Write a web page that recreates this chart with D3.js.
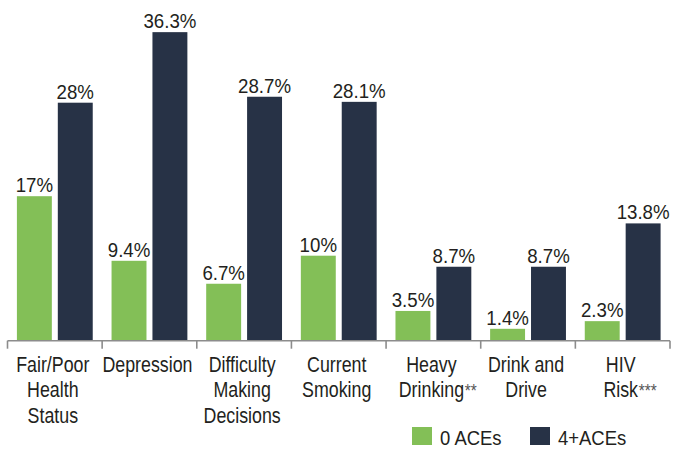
<!DOCTYPE html>
<html>
<head>
<meta charset="utf-8">
<script src="https://cdn.jsdelivr.net/npm/d3@7"></script>
<style>
  body { margin: 0; background: #fff; }
  svg text { font-family: "Liberation Sans", Arial, sans-serif; fill: #231f20; }
</style>
</head>
<body>
<div id="chart"></div>
<script>
// Data
const categories = ['Fair/Poor Health Status', 'Depression', 'Difficulty Making Decisions',
  'Current Smoking', 'Heavy Drinking**', 'Drink and Drive', 'HIV Risk***'];
const categoryLines = [
  ['Fair/Poor', 'Health', 'Status'],
  ['Depression'],
  ['Difficulty', 'Making', 'Decisions'],
  ['Current', 'Smoking'],
  ['Heavy', 'Drinking**'],
  ['Drink and', 'Drive'],
  ['HIV', 'Risk***']
];
const seriesNames = ['0 ACEs', '4+ACEs'];
const zeroAces = [17, 9.4, 6.7, 10, 3.5, 1.4, 2.3];
const fourPlusAces = [28, 36.3, 28.7, 28.1, 8.7, 8.7, 13.8];
const valueLabels0 = ['17%', '9.4%', '6.7%', '10%', '3.5%', '1.4%', '2.3%'];
const valueLabels4 = ['28%', '36.3%', '28.7%', '28.1%', '8.7%', '8.7%', '13.8%'];

const colors = { '0 ACEs': '#83bf57', '4+ACEs': '#273246' };

const width = 678, height = 456;
const svg = d3.select('#chart').append('svg')
  .attr('width', width).attr('height', height);

const baseY = 340.7;
const squeeze = 0.81; // horizontal squeeze for category labels

const x0 = d3.scaleBand()
  .domain(categories)
  .range([7.5, 670])
  .paddingInner(0).paddingOuter(0);

const x1 = d3.scaleBand()
  .domain(seriesNames)
  .range([0, x0.bandwidth()])
  .paddingInner(0.146)
  .paddingOuter(0.23);

const y = d3.scaleLinear()
  .domain([0, 40])
  .range([baseY, baseY - 340]);

const rows = categories.map((c, i) => ({
  category: c,
  lines: categoryLines[i],
  values: [
    { key: '0 ACEs', value: zeroAces[i], label: valueLabels0[i] },
    { key: '4+ACEs', value: fourPlusAces[i], label: valueLabels4[i] }
  ]
}));

// Bars
const groups = svg.selectAll('.group')
  .data(rows)
  .enter().append('g')
  .attr('class', 'group')
  .attr('transform', d => `translate(${x0(d.category)},0)`);

groups.selectAll('rect')
  .data(d => d.values)
  .enter().append('rect')
  .attr('x', d => x1(d.key))
  .attr('width', x1.bandwidth())
  .attr('y', d => y(d.value))
  .attr('height', d => baseY - y(d.value))
  .style('fill', d => colors[d.key]);

// Value labels (squeezed horizontally to mimic a condensed face)
groups.selectAll('.value-label')
  .data(d => d.values)
  .enter().append('text')
  .attr('class', 'value-label')
  .attr('transform', d => `translate(${x1(d.key) + x1.bandwidth() / 2},${y(d.value) - 4}) scale(0.89,1)`)
  .attr('text-anchor', 'middle')
  .style('font-size', '21px')
  .text(d => d.label);

// Axis
const axis = svg.append('g')
  .attr('transform', `translate(0,${baseY})`);

axis.append('line')
  .attr('x1', x0.range()[0]).attr('x2', x0.range()[1])
  .attr('y1', 0).attr('y2', 0)
  .style('stroke', '#8c8c8c').style('stroke-width', 1.6);

const tickPos = categories.map(c => x0(c)).concat([x0.range()[1]]);
axis.selectAll('.tick')
  .data(tickPos)
  .enter().append('line')
  .attr('x1', d => d).attr('x2', d => d)
  .attr('y1', 0).attr('y2', 8)
  .style('stroke', '#8c8c8c').style('stroke-width', 1.6);

// Category labels
const catGroups = svg.selectAll('.cat-label')
  .data(rows)
  .enter().append('g')
  .attr('class', 'cat-label')
  .attr('transform', d => `translate(${x0(d.category) + x0.bandwidth() / 2 - 2},${baseY + 31}) scale(${squeeze},1)`);

catGroups.each(function(d) {
  const g = d3.select(this);
  d.lines.forEach((line, i) => {
    const m = line.match(/^(.*?)(\*+)$/);
    const word = m ? m[1] : line;
    const t = g.append('text')
      .attr('x', 0)
      .attr('y', i * 25.8)
      .attr('text-anchor', 'middle')
      .style('font-size', '22px')
      .text(word);
    if (m) {
      const w = t.node().getComputedTextLength();
      g.append('text')
        .attr('x', w / 2 + 1)
        .attr('y', i * 25.8)
        .style('font-size', '19px')
        .style('fill', '#555')
        .text(m[2]);
    }
  });
});

// Legend
const legend = svg.append('g')
  .attr('transform', 'translate(412,427)');

const legendItems = legend.selectAll('.legend-item')
  .data(seriesNames)
  .enter().append('g')
  .attr('class', 'legend-item')
  .attr('transform', (d, i) => `translate(${i * 118},0)`);

legendItems.append('rect')
  .attr('width', 20).attr('height', 18)
  .style('fill', d => colors[d]);

legendItems.append('text')
  .attr('transform', 'translate(28,18) scale(0.88,1)')
  .style('font-size', '21px')
  .text(d => d);
</script>
</body>
</html>
